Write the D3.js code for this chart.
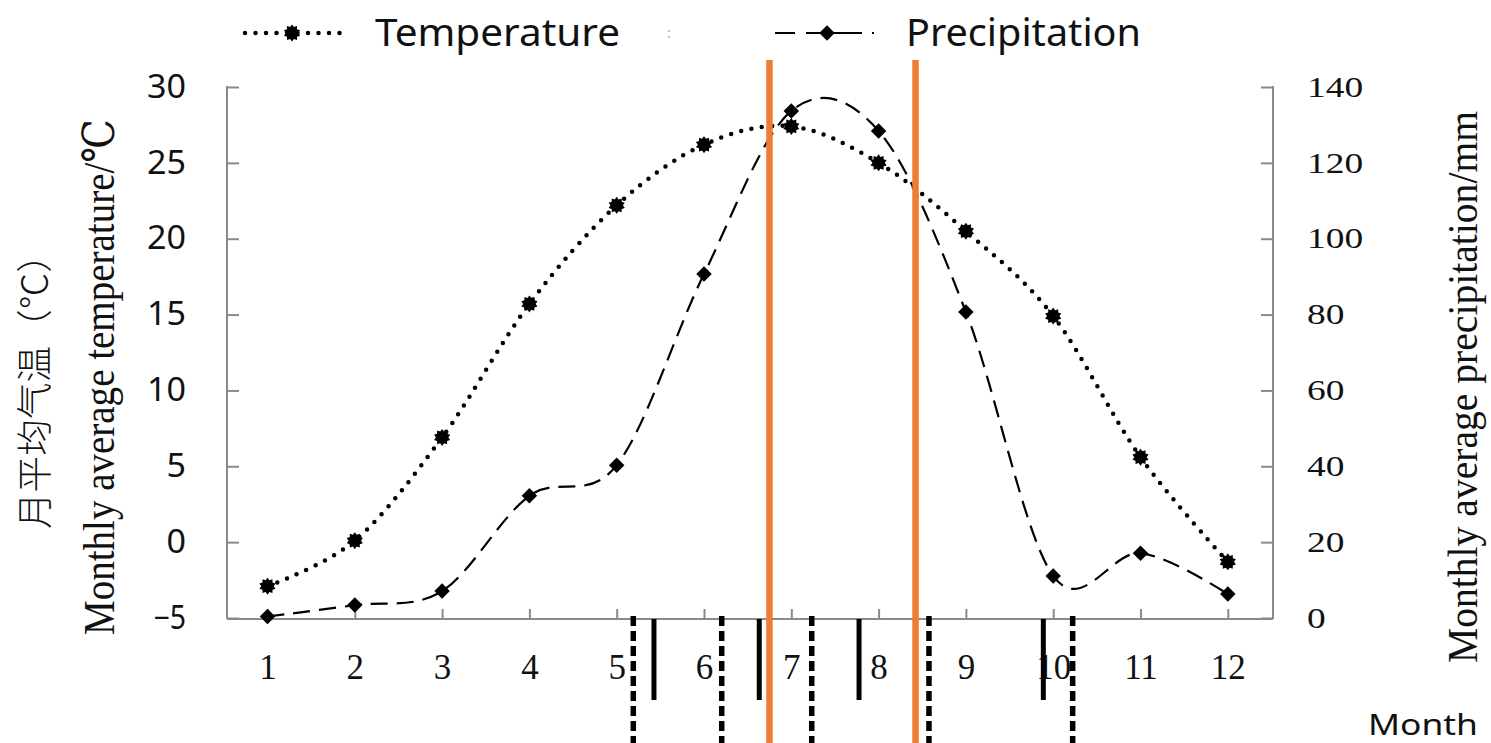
<!DOCTYPE html>
<html>
<head>
<meta charset="utf-8">
<script src="https://cdn.jsdelivr.net/npm/d3@7"></script>
<style>
  body { margin: 0; background: #fff; }
  svg { display: block; }
</style>
</head>
<body>
<svg id="chart" width="1491" height="743"></svg>
<script>
// Monthly climate data
const months = [1, 2, 3, 4, 5, 6, 7, 8, 9, 10, 11, 12];
const temperature = [-2.9, 0.1, 6.9, 15.7, 22.2, 26.2, 27.4, 25.0, 20.5, 14.9, 5.6, -1.3];
const precipitation = [0.4, 3.4, 7.1, 32.2, 40.3, 90.7, 133.7, 128.4, 80.7, 11.1, 17.1, 6.3];

// Axis ticks
const tempTicks = [-5, 0, 5, 10, 15, 20, 25, 30];
const precipTicks = [0, 20, 40, 60, 80, 100, 120, 140];

// Dates marked along the month axis (fractional months)
const solidMarks = [5.427, 6.633, 7.776, 9.887];
const dashedMarks = [5.190, 6.203, 7.234, 8.577, 10.223];
const orangeMarks = [6.750, 8.423];

const svg = d3.select("#chart");
svg.append("rect").attr("width", 1491).attr("height", 743).attr("fill", "#fff");

const AXIS = "#8a8a8a";
const SERIF = "'Liberation Serif', 'DejaVu Serif', serif";
const SANS = "'Noto Sans', 'Open Sans', sans-serif";

const x = d3.scalePoint().domain(months).range([267.5, 1227.8]);
const xm = d3.scaleLinear().domain([1, 12]).range([267.5, 1227.8]);
const yT = d3.scaleLinear().domain([-5, 30]).range([618, 87]);
const yP = d3.scaleLinear().domain([0, 140]).range([618, 87]);

const left = 227, right = 1273, base = 619;

// Axis frame lines
svg.append("line").attr("x1", left).attr("x2", right).attr("y1", base).attr("y2", base)
  .attr("stroke", AXIS).attr("stroke-width", 2);
svg.append("line").attr("x1", left).attr("x2", left).attr("y1", 86).attr("y2", base)
  .attr("stroke", AXIS).attr("stroke-width", 2);
svg.append("line").attr("x1", right).attr("x2", right).attr("y1", 86).attr("y2", base)
  .attr("stroke", AXIS).attr("stroke-width", 2);

// Left axis (temperature)
const gL = svg.append("g").attr("transform", `translate(${left},0)`)
  .call(d3.axisLeft(yT).tickValues(tempTicks).tickSize(-12).tickPadding(41));
gL.select(".domain").remove();
gL.selectAll(".tick line").attr("stroke", AXIS).attr("stroke-width", 2);
gL.selectAll(".tick text")
  .attr("font-family", SANS).attr("font-size", 32).attr("fill", "#111")
  .attr("textLength", d => String(d).replace("-", "").length * 19.5 + (d < 0 ? 13 : 0))
  .attr("lengthAdjust", "spacingAndGlyphs");

// Right axis (precipitation)
const gR = svg.append("g").attr("transform", `translate(${right},0)`)
  .call(d3.axisRight(yP).tickValues(precipTicks).tickSize(-12).tickPadding(34));
gR.select(".domain").remove();
gR.selectAll(".tick line").attr("stroke", AXIS).attr("stroke-width", 2);
gR.selectAll(".tick text")
  .attr("font-family", SERIF).attr("font-size", 29).attr("fill", "#111")
  .attr("textLength", d => String(d).length * 18.7)
  .attr("lengthAdjust", "spacingAndGlyphs");

// Bottom axis (months)
const gB = svg.append("g").attr("transform", `translate(0,${base})`)
  .call(d3.axisBottom(x).tickSize(-10).tickPadding(35));
gB.select(".domain").remove();
gB.selectAll(".tick line").attr("stroke", AXIS).attr("stroke-width", 2);
gB.selectAll(".tick text")
  .attr("font-family", SERIF).attr("font-size", 35).attr("fill", "#111").attr("dy", "0.71em");

// Axis titles
svg.append("text")
  .attr("transform", "translate(48,382.5) rotate(-90)")
  .attr("text-anchor", "middle")
  .attr("font-family", "'Noto Sans CJK SC', sans-serif").attr("font-size", 36).attr("font-weight", 300)
  .attr("fill", "#111")
  .attr("textLength", 293).attr("lengthAdjust", "spacingAndGlyphs")
  .text("月平均气温（℃）");

svg.append("text")
  .attr("transform", "translate(114,377) rotate(-90)")
  .attr("text-anchor", "middle")
  .attr("font-family", SERIF).attr("font-size", 44).attr("fill", "#111")
  .attr("textLength", 516).attr("lengthAdjust", "spacingAndGlyphs")
  .text("Monthly average temperature/℃");

svg.append("text")
  .attr("transform", "translate(1477,387) rotate(-90)")
  .attr("text-anchor", "middle")
  .attr("font-family", SERIF).attr("font-size", 42).attr("fill", "#111")
  .attr("textLength", 552).attr("lengthAdjust", "spacingAndGlyphs")
  .text("Monthly average precipitation/mm");

svg.append("text")
  .attr("x", 1368).attr("y", 735)
  .attr("font-family", SANS).attr("font-size", 29).attr("fill", "#111")
  .attr("textLength", 110).attr("lengthAdjust", "spacingAndGlyphs")
  .text("Month");

// Date marks below the axis
svg.append("g").selectAll("line").data(solidMarks).join("line")
  .attr("x1", d => xm(d)).attr("x2", d => xm(d))
  .attr("y1", base).attr("y2", 700)
  .attr("stroke", "#000").attr("stroke-width", 5);

svg.append("g").selectAll("line").data(dashedMarks).join("line")
  .attr("x1", d => xm(d)).attr("x2", d => xm(d))
  .attr("y1", 616).attr("y2", 743)
  .attr("stroke", "#000").attr("stroke-width", 5.5)
  .attr("stroke-dasharray", "10,5");

// Marker shapes
function starPath(rOut, rIn, n) {
  const pts = [];
  for (let i = 0; i < 2 * n; i++) {
    const a = (Math.PI * i) / n;
    const r = i % 2 === 0 ? rOut : rIn;
    pts.push([r * Math.sin(a), -r * Math.cos(a)]);
  }
  return "M" + pts.map(p => p.join(",")).join("L") + "Z";
}
const starD = starPath(8.5, 6.2, 10);
const diamondD = d3.symbol(d3.symbolSquare, 120)();

const tempData = months.map((m, i) => ({ m, v: temperature[i] }));
const precData = months.map((m, i) => ({ m, v: precipitation[i] }));

const smooth = d3.curveCatmullRom.alpha(0);

// Precipitation (dashed)
svg.append("path")
  .datum(precData)
  .attr("d", d3.line().x(d => x(d.m)).y(d => yP(d.v)).curve(smooth))
  .attr("fill", "none").attr("stroke", "#000").attr("stroke-width", 2.2)
  .attr("stroke-dasharray", "17,9");

// Temperature (dotted)
svg.append("path")
  .datum(tempData)
  .attr("d", d3.line().x(d => x(d.m)).y(d => yT(d.v)).curve(smooth))
  .attr("fill", "none").attr("stroke", "#000").attr("stroke-width", 4.5)
  .attr("stroke-linecap", "round").attr("stroke-dasharray", "0,10.5");

svg.append("g").selectAll("path").data(precData).join("path")
  .attr("transform", d => `translate(${x(d.m)},${yP(d.v)}) rotate(45)`)
  .attr("d", diamondD).attr("fill", "#000");

svg.append("g").selectAll("path").data(tempData).join("path")
  .attr("transform", d => `translate(${x(d.m)},${yT(d.v)})`)
  .attr("d", starD).attr("fill", "#000");

// Orange reference lines
svg.append("g").selectAll("line").data(orangeMarks).join("line")
  .attr("x1", d => xm(d)).attr("x2", d => xm(d))
  .attr("y1", 60).attr("y2", 743)
  .attr("stroke", "#ED7D31").attr("stroke-width", 6.5);

// Legend
const legY = 33;
svg.append("line").attr("x1", 245).attr("x2", 343).attr("y1", legY).attr("y2", legY)
  .attr("stroke", "#000").attr("stroke-width", 4.5)
  .attr("stroke-linecap", "round").attr("stroke-dasharray", "0,10.5");
svg.append("path").attr("transform", `translate(292,${legY})`).attr("d", starD).attr("fill", "#000");
svg.append("text").attr("x", 375).attr("y", 46)
  .attr("font-family", SANS).attr("font-size", 39).attr("fill", "#111")
  .attr("textLength", 245).attr("lengthAdjust", "spacingAndGlyphs")
  .text("Temperature");
svg.append("text").attr("x", 667).attr("y", 38)
  .attr("font-family", SANS).attr("font-size", 14).attr("fill", "#aaa")
  .text(":");

svg.append("line").attr("x1", 775).attr("x2", 876).attr("y1", legY).attr("y2", legY)
  .attr("stroke", "#000").attr("stroke-width", 2.2)
  .attr("stroke-dasharray", "20,11,56,10,2,10");
svg.append("path").attr("transform", `translate(827,${legY}) rotate(45)`).attr("d", diamondD).attr("fill", "#000");
svg.append("text").attr("x", 906).attr("y", 46)
  .attr("font-family", SANS).attr("font-size", 39).attr("fill", "#111")
  .attr("textLength", 235).attr("lengthAdjust", "spacingAndGlyphs")
  .text("Precipitation");
</script>
</body>
</html>
